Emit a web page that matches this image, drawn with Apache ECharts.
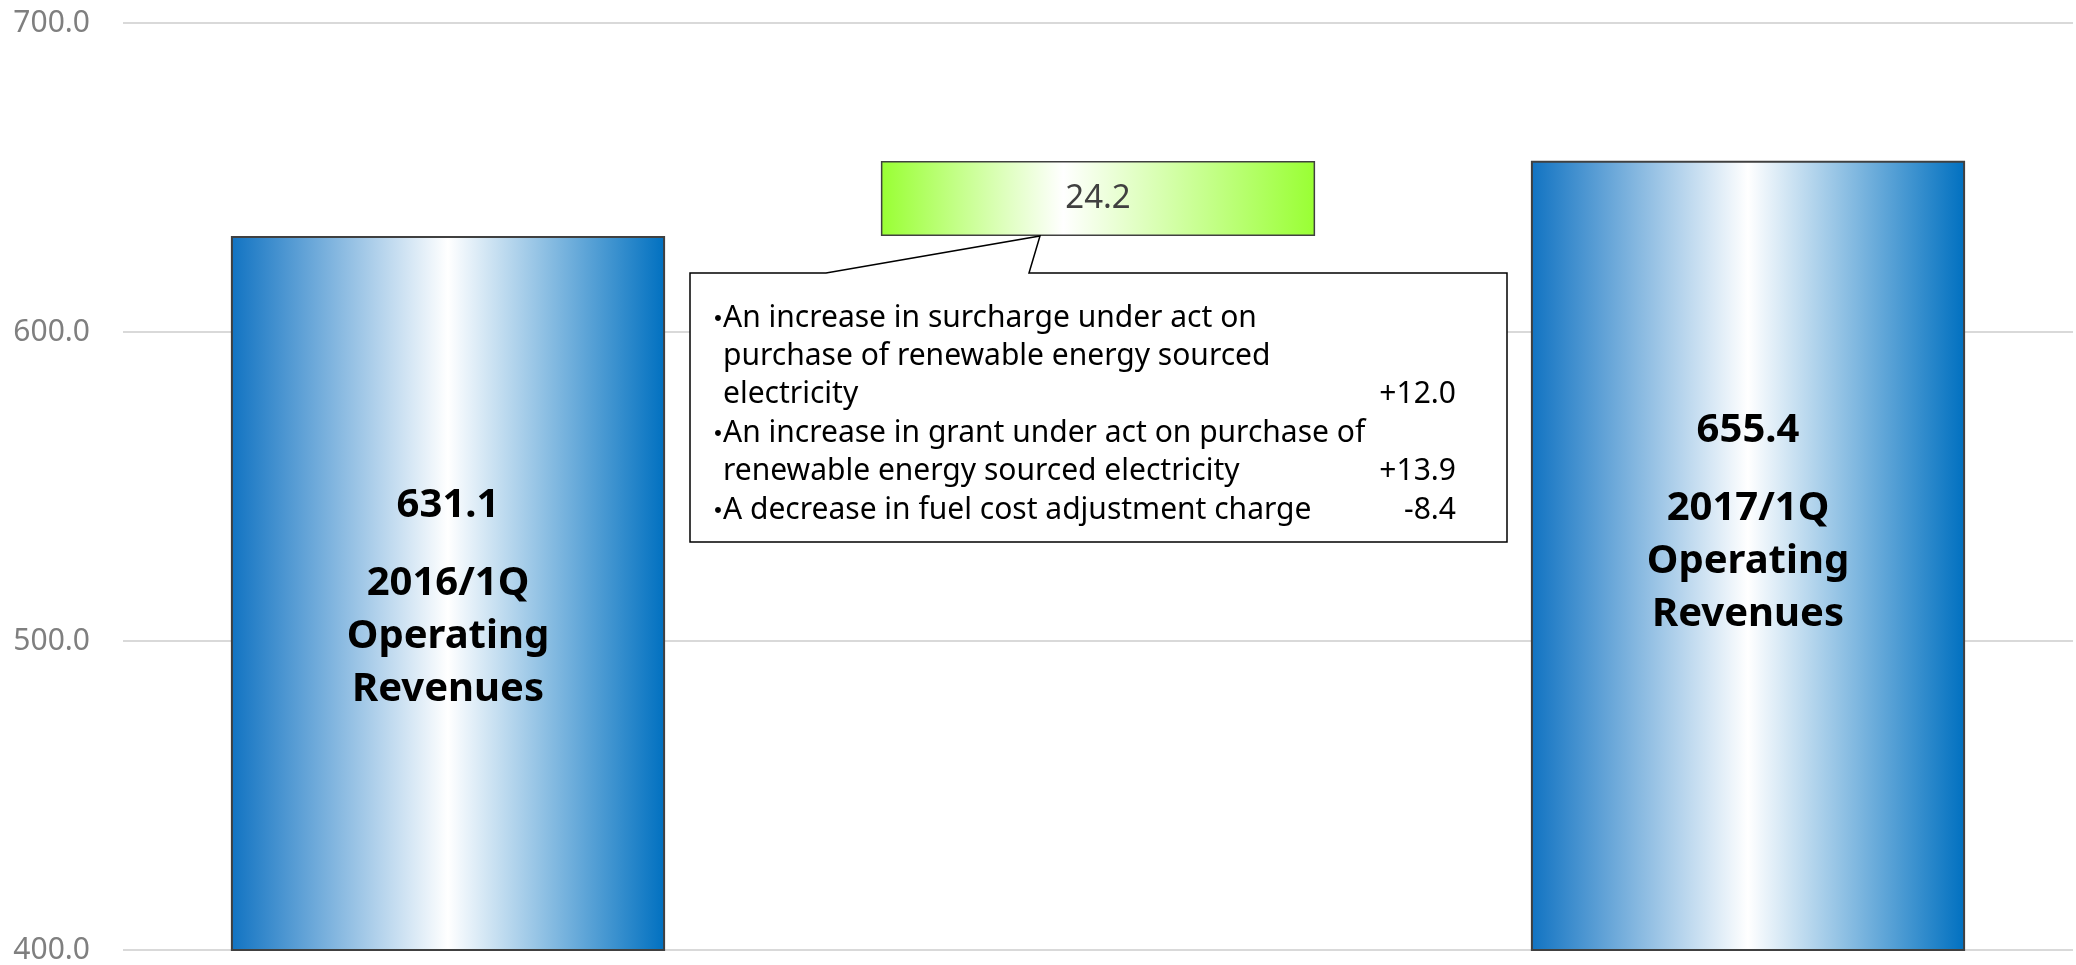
<!DOCTYPE html>
<html>
<head>
<meta charset="utf-8">
<style>
  html, body { margin: 0; padding: 0; background: #fff; }
  #chart { width: 2076px; height: 965px; }
</style>
<script src="https://cdn.jsdelivr.net/npm/echarts@6/dist/echarts.min.js"></script>
</head>
<body>
<div id="chart"></div>
<script>
// 数据
const categories = ['2016/1Q', 'Change', '2017/1Q'];
const totalValues = [631.1, '-', 655.4];
const baseValues = ['-', 631.1, '-'];
const changeValues = ['-', 24.2, '-'];
const barTitles = ['2016/1Q\nOperating\nRevenues', '', '2017/1Q\nOperating\nRevenues'];
const yMin = 400, yMax = 700, yStep = 100;

// callout lines
const noteTexts = [
  'An increase in surcharge under act on',
  'purchase of renewable energy sourced',
  'electricity',
  'An increase in grant under act on purchase of',
  'renewable energy sourced electricity',
  'A decrease in fuel cost adjustment charge'
];
const noteAmounts = ['', '', '+12.0', '', '+13.9', '-8.4'];
const noteBullets = [true, false, false, true, false, true];

const font = '"Noto Sans", "Open Sans", sans-serif';

const blueFill = new echarts.graphic.LinearGradient(0, 0, 1, 0, [
  { offset: 0, color: '#1173c2' },
  { offset: 0.5, color: '#ffffff' },
  { offset: 1, color: '#0070c0' }
]);
const greenFill = new echarts.graphic.LinearGradient(0, 0, 1, 0, [
  { offset: 0, color: '#99ff33' },
  { offset: 0.42, color: '#ffffff' },
  { offset: 1, color: '#99ff33' }
]);

const chart = echarts.init(document.getElementById('chart'));

const option = {
  animation: false,
  grid: { left: 123, right: 3, top: 23, bottom: 13 },
  xAxis: {
    type: 'category',
    data: categories,
    axisLine: { show: false },
    axisTick: { show: false },
    axisLabel: { show: false }
  },
  yAxis: {
    type: 'value',
    min: yMin,
    max: yMax,
    interval: yStep,
    axisLabel: {
      formatter: v => v.toFixed(1),
      color: '#7f7f7f',
      fontSize: 30,
      fontFamily: font,
      margin: 33
    },
    splitLine: { lineStyle: { color: '#d9d9d9', width: 2 } }
  },
  series: [
    {
      name: 'base',
      type: 'bar',
      stack: 'w',
      barWidth: '66.8%',
      data: baseValues,
      itemStyle: { color: 'transparent' },
      silent: true
    },
    {
      name: 'change',
      type: 'bar',
      stack: 'w',
      data: changeValues,
      itemStyle: { color: greenFill, borderColor: '#404040', borderWidth: 1.5 },
      label: {
        show: true,
        position: 'inside',
        formatter: p => p.value.toFixed(1),
        color: '#404040',
        fontSize: 33,
        fontFamily: font
      }
    },
    {
      name: 'total',
      type: 'bar',
      stack: 'w',
      data: totalValues,
      itemStyle: { color: blueFill, borderColor: '#404040', borderWidth: 2 },
      label: {
        show: true,
        position: ['50%', 245],
        align: 'center',
        verticalAlign: 'top',
        // 数值 + 空行 + 标题
        formatter: p => '{n|' + p.value.toFixed(1) + '}\n{s| }\n' +
          barTitles[p.dataIndex].split('\n').map(s => '{t|' + s + '}').join('\n'),
        rich: {
          n: { fontSize: 40, fontWeight: 'bold', color: '#000', fontFamily: font, lineHeight: 50 },
          s: { fontSize: 10, lineHeight: 26 },
          t: { fontSize: 40, fontWeight: 'bold', color: '#000', fontFamily: font, lineHeight: 53 }
        }
      }
    }
  ]
};
chart.setOption(option);

// 说明框：箭头指向增量柱的底部
const tip = chart.convertToPixel({ seriesIndex: 1 }, [1, baseValues[1]]);
const boxL = 690, boxT = 273, boxR = 1507, boxB = 542;
const tipX = tip[0] - 58, tipY = tip[1];

const elements = [{
  type: 'polygon',
  shape: {
    points: [[boxL, boxT], [826, boxT], [tipX, tipY], [1029, boxT], [boxR, boxT], [boxR, boxB], [boxL, boxB]]
  },
  style: { fill: '#fff', stroke: '#000', lineWidth: 1.5 },
  z: 10
}];

noteTexts.forEach((t, i) => {
  const y = 318 + i * 38.4;
  if (noteBullets[i]) {
    elements.push({
      type: 'text', x: 704, y: y, z: 11,
      style: { text: '・', font: '28px "Noto Sans CJK JP"', fill: '#000', verticalAlign: 'middle', align: 'left' }
    });
  }
  elements.push({
    type: 'text', x: 723, y: y, z: 11,
    style: { text: t, font: '30px ' + font, fill: '#000', verticalAlign: 'middle', align: 'left' }
  });
  if (noteAmounts[i]) {
    elements.push({
      type: 'text', x: 1456, y: y, z: 11,
      style: { text: noteAmounts[i], font: '30px ' + font, fill: '#000', verticalAlign: 'middle', align: 'right' }
    });
  }
});

chart.setOption({ graphic: { elements: elements } });
</script>
</body>
</html>
